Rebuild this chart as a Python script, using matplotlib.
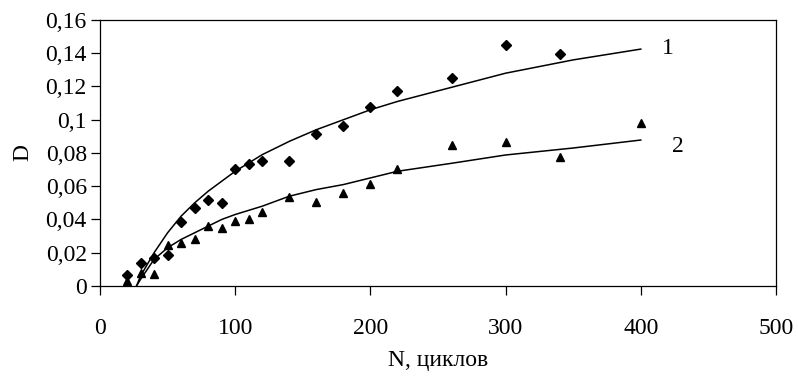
import matplotlib.pyplot as plt
from matplotlib.ticker import FuncFormatter

# экспериментальные точки
n1 = [20, 30, 40, 50, 60, 70, 80, 90, 100, 110, 120, 140, 160, 180, 200, 220, 260, 300, 340]
d1 = [0.0066, 0.0136, 0.0166, 0.0186, 0.0387, 0.0467, 0.0517, 0.0497, 0.0704, 0.0734,
      0.0754, 0.0754, 0.0912, 0.0962, 0.1079, 0.117, 0.1251, 0.145, 0.1395]

n2 = [20, 30, 40, 50, 60, 70, 80, 90, 100, 110, 120, 140, 160, 180, 200, 220, 260, 300, 340, 400]
d2 = [0.003, 0.008, 0.0074, 0.0247, 0.0257, 0.0281, 0.0361, 0.0351, 0.0391, 0.0403,
      0.0447, 0.0537, 0.0507, 0.0561, 0.0612, 0.0704, 0.0848, 0.0868, 0.0778, 0.0982]

# аппроксимирующие кривые
cn = [27, 30, 40, 50, 60, 70, 80, 90, 100, 120, 140, 160, 180, 200, 220, 260, 300, 350, 400]
c1 = [0.0, 0.006, 0.020, 0.032, 0.042, 0.050, 0.057, 0.063, 0.069, 0.079, 0.087,
      0.094, 0.100, 0.106, 0.111, 0.1195, 0.128, 0.136, 0.1425]
c2 = [0.0, 0.004, 0.016, 0.023, 0.028, 0.032, 0.036, 0.040, 0.043, 0.048, 0.054,
      0.058, 0.061, 0.065, 0.069, 0.0738, 0.0788, 0.083, 0.0878]

plt.rcParams['font.family'] = ['Liberation Serif', 'DejaVu Serif']

fig = plt.figure(figsize=(7.98, 3.76), dpi=100)
ax = fig.add_axes([0.1253, 0.2394, 0.8471, 0.7074])

ax.plot(cn, c1, color='black', lw=1.1)
ax.plot(cn, c2, color='black', lw=1.1)
ax.plot(n1, d1, linestyle='none', marker='D', ms=5, color='black')
ax.plot(n2, d2, linestyle='none', marker='^', ms=6, color='black')

ax.text(416, 0.143, '1', fontsize=17, va='center', ha='left')
ax.text(423, 0.084, '2', fontsize=17, va='center', ha='left')

ax.set_xlim(0, 500)
ax.set_ylim(0, 0.16)
ax.set_xticks(range(0, 501, 100))
ax.set_yticks([i * 0.02 for i in range(9)])


def comma(v, pos):
    s = ('%.2f' % v).rstrip('0').rstrip('.')
    return s.replace('.', ',')


ax.yaxis.set_major_formatter(FuncFormatter(comma))
ax.tick_params(direction='out', length=6.5, width=0.9, labelsize=17, colors='black')
ax.tick_params(axis='x', pad=16.5)
ax.tick_params(axis='y', pad=3)
for s in ax.spines.values():
    s.set_linewidth(0.9)

ax.set_xlabel('N, циклов', fontsize=17, labelpad=8)
ax.set_ylabel('D', fontsize=17, labelpad=9)

fig.savefig('out.png', dpi=100)
